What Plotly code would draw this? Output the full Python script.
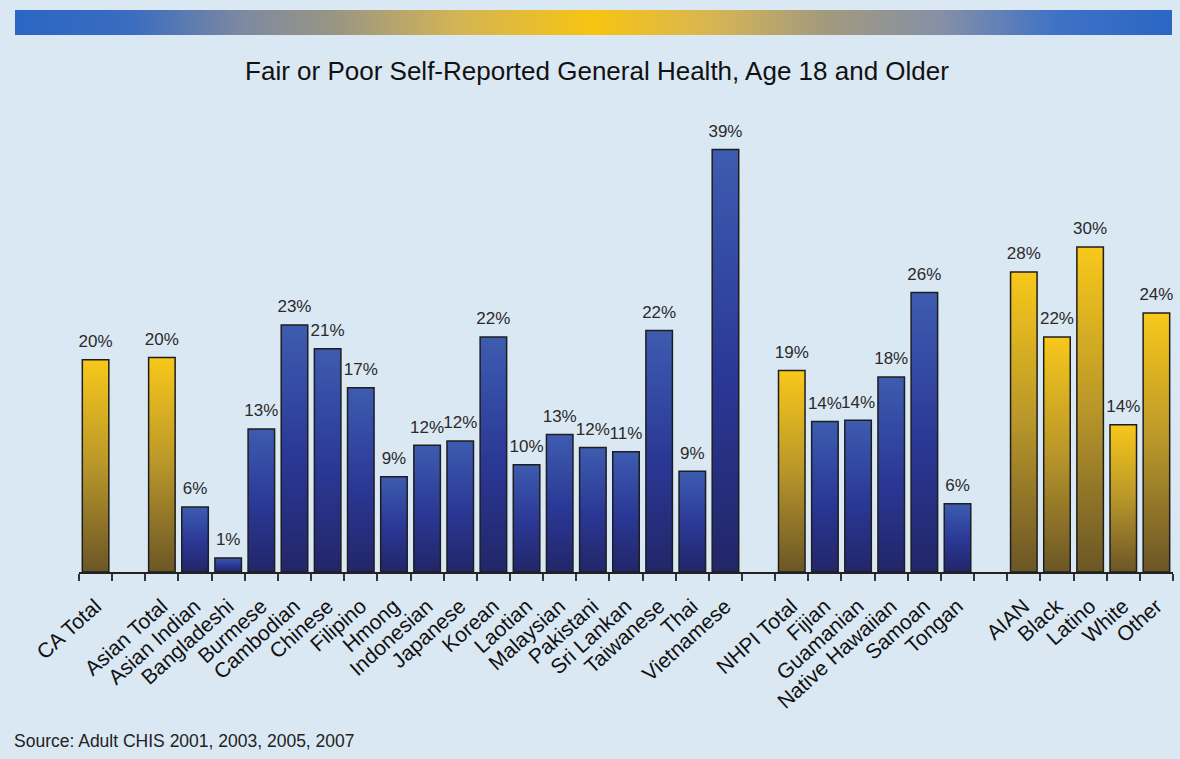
import plotly.graph_objects as go

# Share of adults (18+) reporting fair or poor general health, percent
categories = [
    "CA Total",
    "Asian Total", "Asian Indian", "Bangladeshi", "Burmese", "Cambodian",
    "Chinese", "Filipino", "Hmong", "Indonesian", "Japanese", "Korean",
    "Laotian", "Malaysian", "Pakistani", "Sri Lankan", "Taiwanese", "Thai",
    "Vietnamese",
    "NHPI Total", "Fijian", "Guamanian", "Native Hawaiian", "Samoan", "Tongan",
    "AIAN", "Black", "Latino", "White", "Other",
]
values = [
    19.6,
    19.8, 6.0, 1.3, 13.2, 22.8,
    20.6, 17.0, 8.8, 11.7, 12.1, 21.7,
    9.9, 12.7, 11.5, 11.1, 22.3, 9.3,
    39.0,
    18.6, 13.9, 14.0, 18.0, 25.8, 6.3,
    27.7, 21.7, 30.0, 13.6, 23.9,
]
groups = ["State"] + ["Asian"] * 18 + ["NHPI"] * 6 + ["Race"] * 5
source_note = "Source: Adult CHIS 2001, 2003, 2005, 2007"
title_text = "Fair or Poor Self-Reported General Health, Age 18 and Older"

FONT = "Liberation Sans, Arial, sans-serif"
GOLD_SCALE = [[0, "#6b5626"], [0.5, "#b8962a"], [1, "#f8c81a"]]
BLUE_SCALE = [[0, "#222668"], [0.45, "#2a3794"], [1, "#3d5cb0"]]
BAR_HALF = 0.4

# Slot index per bar, leaving one empty slot between groups
slots = []
pos = 0
for i, g in enumerate(groups):
    if i > 0 and g != groups[i - 1]:
        pos += 1
    slots.append(pos)
    pos += 1
n_slots = pos

fig = go.Figure()

# Gradient-filled bars
for name, val, grp, s in zip(categories, values, groups, slots):
    summary = name.endswith("Total") or grp == "Race"
    fig.add_trace(go.Scatter(
        x=[s - BAR_HALF, s - BAR_HALF, s + BAR_HALF, s + BAR_HALF, s - BAR_HALF],
        y=[0, val, val, 0, 0],
        mode="lines",
        fill="toself",
        fillgradient=dict(type="vertical",
                          colorscale=GOLD_SCALE if summary else BLUE_SCALE),
        line=dict(color="#1e1e1e", width=1.5),
        hoverinfo="skip",
        showlegend=False,
        xaxis="x", yaxis="y",
    ))

# Percent labels above bars (invisible markers give the text some lift)
fig.add_trace(go.Scatter(
    x=slots, y=values,
    mode="markers+text",
    marker=dict(size=12, opacity=0),
    text=[f"{v:.0f}%" for v in values],
    textposition="top center",
    textfont=dict(family=FONT, size=17, color="#2a2a2a"),
    hoverinfo="skip",
    showlegend=False,
    xaxis="x2", yaxis="y",
))

# Decorative header band
fig.add_trace(go.Scatter(
    x=[0, 0, 1, 1, 0], y=[0, 1, 1, 0, 0],
    mode="lines", fill="toself",
    fillgradient=dict(type="horizontal", colorscale=[
        [0, "#2b66c4"], [0.1, "#3a6cc0"], [0.2, "#7f8aa0"], [0.28, "#9a9682"],
        [0.38, "#d2b456"], [0.5, "#f7c412"], [0.6, "#d8b652"], [0.7, "#a29a7e"],
        [0.8, "#8690a6"], [0.9, "#3f72c6"], [1, "#2b66c4"]]),
    line=dict(width=0),
    hoverinfo="skip", showlegend=False,
    xaxis="x3", yaxis="y3",
))

ML, MR, MT, MB = 12, 7, 8, 187
W, H = 1180, 759
plot_w = W - ML - MR
plot_h = H - MT - MB
x_dom = [(79 - ML) / plot_w, 1]
y_top_px = 117

fig.update_layout(
    width=W, height=H,
    margin=dict(l=ML, r=MR, t=MT, b=MB, autoexpand=False),
    paper_bgcolor="#dae8f4",
    plot_bgcolor="rgba(0,0,0,0)",
    title=dict(text=title_text, x=597 / W, xref="container", xanchor="center",
               y=1 - 71 / H, yref="container", yanchor="middle",
               font=dict(family=FONT, size=26, color="#111111")),
    xaxis=dict(domain=x_dom, range=[-0.5, n_slots - 0.5],
               tickvals=[k - 0.5 for k in range(n_slots + 1)],
               showticklabels=False, ticks="outside", ticklen=7,
               tickwidth=1.5, tickcolor="#333333",
               showline=True, linecolor="#222222", linewidth=1.5,
               showgrid=False, zeroline=False, fixedrange=True,
               automargin=False),
    xaxis2=dict(overlaying="x", range=[-0.5, n_slots - 0.5],
                tickvals=slots, ticktext=categories, tickangle=-42,
                ticks="", showline=False, showgrid=False, zeroline=False,
                tickfont=dict(family=FONT, size=21, color="#111111"),
                ticklabelstandoff=17, side="bottom", anchor="y",
                automargin=False),
    yaxis=dict(domain=[0, (572 - y_top_px) / plot_h], range=[0, 42],
               visible=False, fixedrange=True, automargin=False),
    xaxis3=dict(domain=[(15 - ML) / plot_w, (1172 - ML) / plot_w],
                range=[0, 1], visible=False, anchor="y3"),
    yaxis3=dict(domain=[(572 - 35) / plot_h, (572 - 10) / plot_h],
                range=[0, 1], visible=False, anchor="x3"),
    annotations=[dict(
        text=source_note, xref="paper", yref="paper",
        x=0, y=(572 - 741) / plot_h, xanchor="left", yanchor="middle",
        showarrow=False, font=dict(family=FONT, size=17.5, color="#222222"),
    )],
)

fig.write_html("out.html")
